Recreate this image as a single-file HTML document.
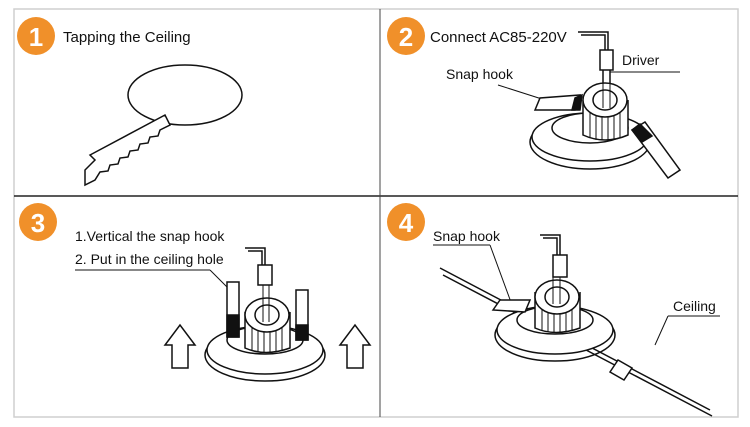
<!DOCTYPE html>
<html><head><meta charset="utf-8"><style>
html,body{margin:0;padding:0;background:#fff;}
svg{display:block;font-family:"Liberation Sans",Arial,sans-serif;}
</style></head><body>
<svg width="750" height="427" viewBox="0 0 750 427" xmlns="http://www.w3.org/2000/svg">
<rect x="14" y="9" width="724" height="408" fill="none" stroke="#cfcfcf" stroke-width="1.5"/>
<line x1="14" y1="196" x2="738" y2="196" stroke="#222" stroke-width="1.5"/>
<line x1="380" y1="9" x2="380" y2="417" stroke="#444" stroke-width="1"/>

<!-- numbered circles -->
<g font-weight="bold" font-size="26" fill="#fff" text-anchor="middle">
<circle cx="36" cy="36" r="19" fill="#f0902a"/><text x="36" y="46">1</text>
<circle cx="406" cy="36" r="19" fill="#f0902a"/><text x="406" y="46">2</text>
<circle cx="38" cy="222" r="19" fill="#f0902a"/><text x="38" y="232">3</text>
<circle cx="406" cy="222" r="19" fill="#f0902a"/><text x="406" y="232">4</text>
</g>

<g font-size="15" fill="#111">
<text x="63" y="42">Tapping the Ceiling</text>
<text x="430" y="42">Connect AC85-220V</text>
<text x="622" y="65" font-size="14">Driver</text>
<text x="446" y="79" font-size="14">Snap hook</text>
<text x="75" y="241" font-size="14">1.Vertical the snap hook</text>
<text x="75" y="264" font-size="14">2. Put in the ceiling hole</text>
<text x="433" y="241" font-size="14">Snap hook</text>
<text x="673" y="311" font-size="14">Ceiling</text>
</g>

<g fill="none" stroke="#111" stroke-width="1.5">
<!-- panel 1 -->
<ellipse cx="185" cy="95" rx="57" ry="30"/>
<path d="M85,185 L85,170 L95,160 L90,155 L165,115 L170,125 L160,130 L158,136 L150,137 L148,143 L140,144 L138,150 L130,151 L128,157 L120,158 L118,164 L110,165 L108,171 L100,172 L95,180 Z" fill="#fff"/>
<!-- panel 2 -->
<polyline points="578,32 608,32 608,50"/><polyline points="581,35 605,35 605,50"/>
<rect x="600" y="50" width="13" height="20" fill="#fff"/>
<line x1="603" y1="70" x2="603" y2="110"/><line x1="610" y1="70" x2="610" y2="110"/>
<line x1="498" y1="85" x2="545" y2="100" stroke-width="1"/>
<line x1="610" y1="72" x2="680" y2="72" stroke-width="1"/>
<ellipse cx="590" cy="142" rx="60" ry="27"/>
<ellipse cx="590" cy="137" rx="58" ry="24" fill="#fff"/>
<ellipse cx="590" cy="128" rx="38" ry="15" fill="#fff"/>
<path d="M583,100 L583,135 Q605,145 628,135 L628,100" fill="#fff"/>
<g stroke-width="1"><line x1="590" y1="112" x2="590" y2="138"/><line x1="596" y1="112" x2="596" y2="140"/><line x1="602" y1="112" x2="602" y2="140"/><line x1="608" y1="112" x2="608" y2="140"/><line x1="614" y1="112" x2="614" y2="140"/><line x1="620" y1="112" x2="620" y2="138"/></g>
<ellipse cx="605" cy="100" rx="22" ry="17" fill="#fff"/>
<ellipse cx="605" cy="100" rx="12" ry="10"/>
<line x1="603" y1="70" x2="603" y2="108" stroke-width="1"/><line x1="610" y1="70" x2="610" y2="108" stroke-width="1"/>
<path d="M535,110 L540,98 L580,95 L575,110 Z" fill="#fff"/>
<path d="M575,98 L582,95 L580,110 L572,110 Z" fill="#111"/>
<path d="M632,130 L645,122 L680,170 L668,178 Z" fill="#fff"/>
<path d="M632,130 L640,124 L652,136 L642,142 Z" fill="#111"/>
<!-- panel 3 -->
<polyline points="245,248 265,248 265,265"/><polyline points="248,251 262,251 262,265"/>
<rect x="258" y="265" width="14" height="20" fill="#fff"/>
<line x1="75" y1="270" x2="210" y2="270" stroke-width="1"/>
<line x1="210" y1="270" x2="230" y2="290" stroke-width="1"/>
<ellipse cx="265" cy="355" rx="60" ry="26"/>
<ellipse cx="265" cy="350" rx="58" ry="24" fill="#fff"/>
<ellipse cx="265" cy="340" rx="38" ry="14" fill="#fff"/>
<path d="M245,312 L245,348 Q265,357 290,348 L290,312" fill="#fff"/>
<g stroke-width="1"><line x1="252" y1="325" x2="252" y2="350"/><line x1="258" y1="325" x2="258" y2="352"/><line x1="264" y1="325" x2="264" y2="352"/><line x1="270" y1="325" x2="270" y2="352"/><line x1="276" y1="325" x2="276" y2="352"/><line x1="282" y1="325" x2="282" y2="350"/></g>
<ellipse cx="267" cy="315" rx="22" ry="17" fill="#fff"/>
<ellipse cx="267" cy="315" rx="12" ry="10"/>
<line x1="263" y1="285" x2="263" y2="322" stroke-width="1"/><line x1="269" y1="285" x2="269" y2="322" stroke-width="1"/>
<rect x="227" y="282" width="12" height="55" fill="#fff"/><rect x="227" y="315" width="12" height="22" fill="#111"/>
<rect x="296" y="290" width="12" height="50" fill="#fff"/><rect x="296" y="325" width="12" height="15" fill="#111"/>
<path d="M172,368 L172,345 L165,345 L180,325 L195,345 L188,345 L188,368 Z" fill="#fff"/>
<path d="M347,368 L347,345 L340,345 L355,325 L370,345 L363,345 L363,368 Z" fill="#fff"/>
<!-- panel 4 -->
<polyline points="540,235 560,235 560,255"/><polyline points="543,238 557,238 557,255"/>
<rect x="553" y="255" width="14" height="22" fill="#fff"/>
<line x1="440" y1="268" x2="710" y2="410"/>
<line x1="443" y1="275" x2="712" y2="416"/>
<line x1="433" y1="245" x2="490" y2="245" stroke-width="1"/>
<line x1="490" y1="245" x2="512" y2="305" stroke-width="1"/>
<line x1="668" y1="316" x2="720" y2="316" stroke-width="1"/>
<line x1="668" y1="316" x2="655" y2="345" stroke-width="1"/>
<ellipse cx="555" cy="335" rx="60" ry="26"/>
<ellipse cx="555" cy="330" rx="58" ry="24" fill="#fff"/>
<ellipse cx="555" cy="320" rx="38" ry="14" fill="#fff"/>
<path d="M535,292 L535,328 Q555,337 580,328 L580,292" fill="#fff"/>
<g stroke-width="1"><line x1="542" y1="305" x2="542" y2="330"/><line x1="548" y1="305" x2="548" y2="332"/><line x1="554" y1="305" x2="554" y2="332"/><line x1="560" y1="305" x2="560" y2="332"/><line x1="566" y1="305" x2="566" y2="332"/><line x1="572" y1="305" x2="572" y2="330"/></g>
<ellipse cx="557" cy="297" rx="22" ry="17" fill="#fff"/>
<ellipse cx="557" cy="297" rx="12" ry="10"/>
<line x1="553" y1="277" x2="553" y2="304" stroke-width="1"/><line x1="560" y1="277" x2="560" y2="304" stroke-width="1"/>
<path d="M493,310 L500,300 L530,300 L525,312 Z" fill="#fff"/>
<path d="M610,372 L618,360 L632,368 L624,380 Z" fill="#fff"/>
</g>
</svg>
</body></html>
